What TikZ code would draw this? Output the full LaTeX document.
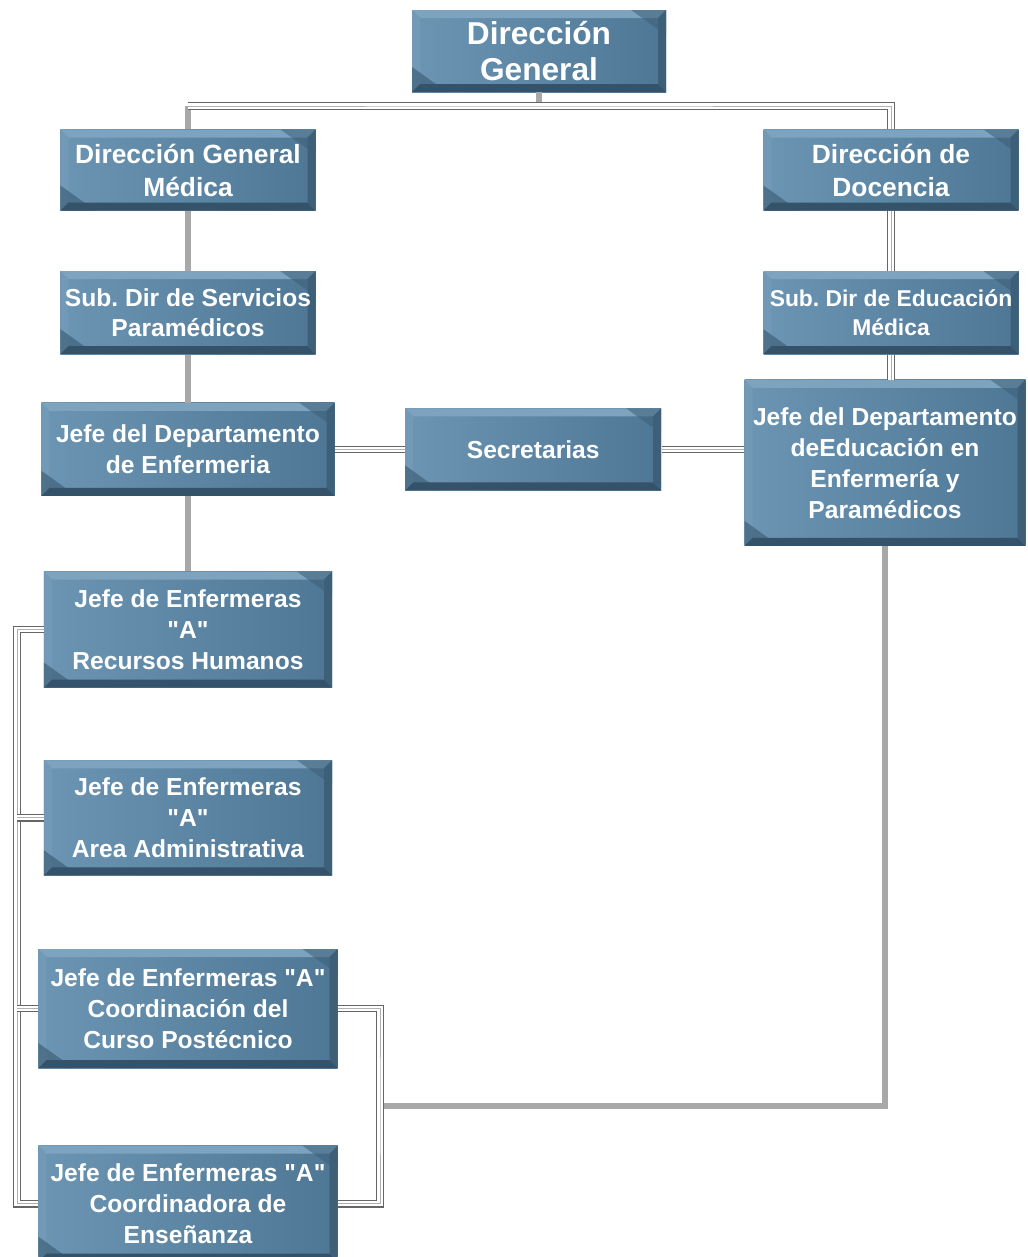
\documentclass[tikz,border=0pt]{standalone}
\usepackage{fontspec}
\setmainfont{Liberation Sans}[Ligatures=TeXOff]
\usepackage{xcolor}
\usetikzlibrary{positioning,calc}
\frenchspacing

\definecolor{boxlight}{HTML}{6C95B3}
\definecolor{boxdeep}{HTML}{4E7795}
\definecolor{boxtop}{HTML}{7EA3BE}
\definecolor{boxleft}{HTML}{729AB6}
\definecolor{boxbottom}{HTML}{34526A}
\definecolor{boxright}{HTML}{3D5F78}
\definecolor{linegrey}{HTML}{A8A8A8}
\definecolor{tripleedge}{HTML}{666666}
\definecolor{triplemid}{HTML}{B0B0B0}

\def\bv{1.6mm}
\tikzset{
  orgbox/.style={rectangle, left color=boxlight, right color=boxdeep, text=white,
    font=\bfseries\fontsize{14}{17.6}\selectfont, align=center, inner sep=1pt,
    path picture={
      \coordinate (bSW) at (path picture bounding box.south west);
      \coordinate (bNE) at (path picture bounding box.north east);
      \coordinate (bSE) at (bSW -| bNE);
      \coordinate (bNW) at (bSW |- bNE);
      \fill[boxtop] (bNW) -- (bNE) -- ($(bNE)+(-\bv,-\bv)$) -- ($(bNW)+(\bv,-\bv)$) -- cycle;
      \fill[boxleft] (bNW) -- (bSW) -- ($(bSW)+(\bv,\bv)$) -- ($(bNW)+(\bv,-\bv)$) -- cycle;
      \fill[boxbottom] (bSW) -- (bSE) -- ($(bSE)+(-\bv,\bv)$) -- ($(bSW)+(\bv,\bv)$) -- cycle;
      \fill[boxright] (bNE) -- (bSE) -- ($(bSE)+(-\bv,\bv)$) -- ($(bNE)+(-\bv,-\bv)$) -- cycle;
      \fill[boxbottom, opacity=.55] (bSW) -- ($(bSW)+(7mm,0)$) -- ($(bSW)+(0,5mm)$) -- cycle;
      \fill[boxright, opacity=.55] (bNE) -- ($(bNE)+(-7mm,0)$) -- ($(bNE)+(0,-5mm)$) -- cycle;
    }},
  greyline/.style={draw=linegrey, line width=1.1mm},
  tripleline/.style={draw=white, line width=3pt,
    preaction={draw=tripleedge, line width=4.4pt},
    postaction={draw=triplemid, line width=0.5pt}},
}

\begin{document}
\begin{tikzpicture}[x=0.2mm, y=-0.2mm]
  \useasboundingbox (0,0) rectangle (1027,1257);

  % top
  \node[orgbox, minimum width=50.8mm, minimum height=16.4mm,
        font=\bfseries\fontsize{18}{20.5}\selectfont] (dg) at (539,51) {Dirección\\General};

  % left column
  \node[orgbox, minimum width=51mm, minimum height=16.2mm,
        font=\bfseries\fontsize{15}{18.8}\selectfont] (dgm) at (188,170) {Dirección General\\Médica};
  \node[orgbox, minimum width=51mm, minimum height=16.6mm, below=12mm of dgm] (subds)
       {Sub. Dir de Servicios\\Paramédicos};
  \node[orgbox, minimum width=58.6mm, minimum height=18.6mm, below=9.6mm of subds] (jde)
       {Jefe del Departamento\\de Enfermeria};
  \node[orgbox, minimum width=57.6mm, minimum height=23.2mm, below=15mm of jde] (rh)
       {Jefe de Enfermeras\\"A"\\Recursos Humanos};
  \node[orgbox, minimum width=57.6mm, minimum height=23mm, below=14.4mm of rh] (aa)
       {Jefe de Enfermeras\\"A"\\Area Administrativa};
  \node[orgbox, minimum width=59.8mm, minimum height=23.8mm, below=14.6mm of aa] (ccp)
       {Jefe de Enfermeras "A"\\Coordinación del\\Curso Postécnico};
  \node[orgbox, minimum width=59.8mm, minimum height=23.2mm, below=15.4mm of ccp] (ce)
       {Jefe de Enfermeras "A"\\Coordinadora de\\Enseñanza};

  % middle
  \node[orgbox, minimum width=51.2mm, minimum height=16.4mm, right=14mm of jde] (sec) {Secretarias};

  % right column
  \node[orgbox, minimum width=51mm, minimum height=16.2mm,
        font=\bfseries\fontsize{15}{18.8}\selectfont] (dd) at (891,170) {Dirección de\\Docencia};
  \node[orgbox, minimum width=51mm, minimum height=16.6mm, below=12mm of dd,
        font=\bfseries\fontsize{13}{16.5}\selectfont] (subde) {Sub. Dir de Educación\\Médica};
  \node[orgbox, minimum width=56.2mm, minimum height=33.2mm, below=5mm of subde, xshift=-1.2mm] (jdee)
       {Jefe del Departamento\\deEducación en\\Enfermería y\\Paramédicos};

  \coordinate (bus) at (539,106);
  \coordinate (rb) at (380,1106);
  \coordinate (lb) at (17,627);

  % connectors
  \draw[greyline] (dg.south) -- (bus);
  \draw[greyline] (dgm.north) -- (dgm.north |- bus);
  \draw[tripleline] (dgm.north |- bus) -- (bus) -| (dd.north);
  \draw[greyline] (dgm) -- (subds);
  \draw[greyline] (subds) -- (jde);
  \draw[greyline] (jde) -- (rh);
  \draw[tripleline] (dd) -- (subde);
  \draw[tripleline] (subde.south) -- (subde.south |- jdee.north);
  \draw[tripleline] (jde) -- (sec);
  \draw[tripleline] (sec.east) -- (sec.east -| jdee.west);
  \draw[greyline] (jdee.south) |- (rb);
  \draw[tripleline] (ccp.east) -| (rb) |- (ce.east);
  \draw[tripleline] (rh.west) -- (rh.west -| lb) |- (ce.west);
  \draw[tripleline] (aa.west) -- (aa.west -| lb);
  \draw[tripleline] (ccp.west) -- (ccp.west -| lb);
\end{tikzpicture}
\end{document}
